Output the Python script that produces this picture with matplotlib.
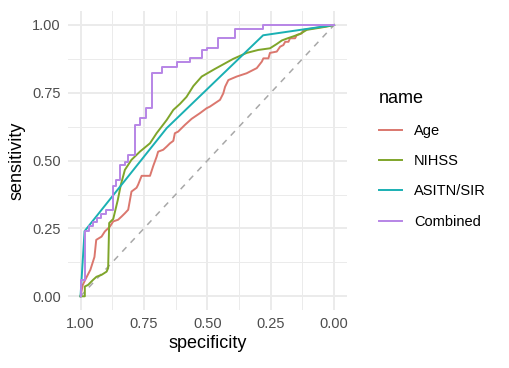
import matplotlib
matplotlib.use("Agg")
import matplotlib.pyplot as plt
from matplotlib.ticker import FixedLocator

plt.rcParams['font.family'] = ['Liberation Sans', 'DejaVu Sans']

# ROC curves (specificity, sensitivity)
age_spec = [1.000, 0.991, 0.978, 0.961, 0.945, 0.938, 0.917, 0.904, 0.884, 0.871,
            0.852, 0.838, 0.825, 0.812, 0.805, 0.799, 0.779, 0.773, 0.759, 0.726,
            0.713, 0.700, 0.694, 0.674, 0.660, 0.647, 0.634, 0.628, 0.615, 0.601,
            0.588, 0.562, 0.529, 0.503, 0.490, 0.450, 0.437, 0.430, 0.417, 0.384,
            0.345, 0.305, 0.285, 0.279, 0.259, 0.253, 0.226, 0.213, 0.200, 0.193,
            0.180, 0.174, 0.154, 0.147, 0.128, 0.121, 0.108, 0.000]
age_sens = [0.000, 0.042, 0.067, 0.098, 0.145, 0.208, 0.220, 0.239, 0.257, 0.276,
            0.282, 0.294, 0.306, 0.319, 0.355, 0.386, 0.400, 0.411, 0.444, 0.444,
            0.481, 0.514, 0.533, 0.540, 0.552, 0.564, 0.573, 0.601, 0.607, 0.620,
            0.632, 0.654, 0.675, 0.693, 0.699, 0.724, 0.748, 0.772, 0.797, 0.810,
            0.822, 0.841, 0.865, 0.877, 0.877, 0.897, 0.902, 0.920, 0.926, 0.938,
            0.938, 0.951, 0.951, 0.963, 0.969, 0.982, 0.984, 1.000]

nihss_spec = [1.000, 0.983, 0.983, 0.970, 0.950, 0.937, 0.917, 0.897, 0.891, 0.887,
              0.871, 0.853, 0.841, 0.825, 0.799, 0.766, 0.726, 0.700, 0.660, 0.634,
              0.608, 0.582, 0.555, 0.522, 0.470, 0.398, 0.345, 0.299, 0.253, 0.226,
              0.206, 0.180, 0.161, 0.134, 0.108, 0.068, 0.029, 0.000]
nihss_sens = [0.000, 0.000, 0.036, 0.042, 0.061, 0.072, 0.079, 0.091, 0.104, 0.270,
              0.285, 0.355, 0.411, 0.466, 0.503, 0.533, 0.564, 0.601, 0.650, 0.687,
              0.709, 0.735, 0.775, 0.810, 0.838, 0.875, 0.897, 0.908, 0.914, 0.930,
              0.943, 0.952, 0.958, 0.967, 0.982, 0.988, 0.994, 1.000]

asitn_spec = [1.000, 0.984, 0.660, 0.280, 0.000]
asitn_sens = [0.000, 0.240, 0.620, 0.962, 1.000]

comb_spec = [1.000, 0.984, 0.967, 0.952, 0.936, 0.920, 0.900, 0.872, 0.861, 0.846,
             0.826, 0.813, 0.787, 0.766, 0.741, 0.720, 0.680, 0.620, 0.569, 0.522,
             0.503, 0.457, 0.391, 0.279, 0.000]
comb_sens = [0.000, 0.061, 0.241, 0.260, 0.274, 0.289, 0.304, 0.319, 0.407, 0.429,
             0.484, 0.496, 0.521, 0.632, 0.656, 0.693, 0.824, 0.845, 0.865, 0.877,
             0.908, 0.914, 0.951, 0.985, 1.000]

names = ['Age', 'NIHSS', 'ASITN/SIR', 'Combined']
colors = ['#DB776E', '#7FA52A', '#1AB0B3', '#B785E6']

fig = plt.figure(figsize=(5.1, 3.68), dpi=100)
ax = fig.add_axes([0.133, 0.158, 0.547, 0.811])

grid_col = '#EBEBEB'
ax.xaxis.set_major_locator(FixedLocator([0, 0.25, 0.5, 0.75, 1.0]))
ax.yaxis.set_major_locator(FixedLocator([0, 0.25, 0.5, 0.75, 1.0]))
ax.xaxis.set_minor_locator(FixedLocator([0.125, 0.375, 0.625, 0.875]))
ax.yaxis.set_minor_locator(FixedLocator([0.125, 0.375, 0.625, 0.875]))
ax.grid(which='major', color=grid_col, linewidth=1.4)
ax.grid(which='minor', color=grid_col, linewidth=0.7)
ax.set_axisbelow(True)
for s in ax.spines.values():
    s.set_visible(False)
ax.tick_params(which='both', length=0, labelsize=10.5, labelcolor='#4D4D4D', pad=5)

# chance line
ax.plot([1, 0], [0, 1], color='#A8A8A8', linestyle=(0, (4, 4)), linewidth=1.1)

ax.plot(age_spec, age_sens, color=colors[0], linewidth=1.4, label=names[0])
ax.plot(nihss_spec, nihss_sens, color=colors[1], linewidth=1.4, label=names[1])
ax.plot(asitn_spec, asitn_sens, color=colors[2], linewidth=1.4, label=names[2])
ax.plot(comb_spec, comb_sens, color=colors[3], linewidth=1.4, label=names[3],
        drawstyle='steps-pre')

ax.set_xlim(1.05, -0.05)
ax.set_ylim(-0.05, 1.05)
ax.set_xticklabels(['0.00', '0.25', '0.50', '0.75', '1.00'])
ax.set_yticklabels(['0.00', '0.25', '0.50', '0.75', '1.00'])
ax.set_xlabel('specificity', fontsize=13, labelpad=3)
ax.set_ylabel('sensitivity', fontsize=13, labelpad=5)

leg = ax.legend(loc='upper left', bbox_to_anchor=(0.717, 0.79), bbox_transform=fig.transFigure,
                frameon=False, title='name', title_fontsize=13, fontsize=10.5,
                handlelength=1.6, handletextpad=0.8, labelspacing=1.12,
                alignment='left')

fig.savefig('out.png', dpi=100)
